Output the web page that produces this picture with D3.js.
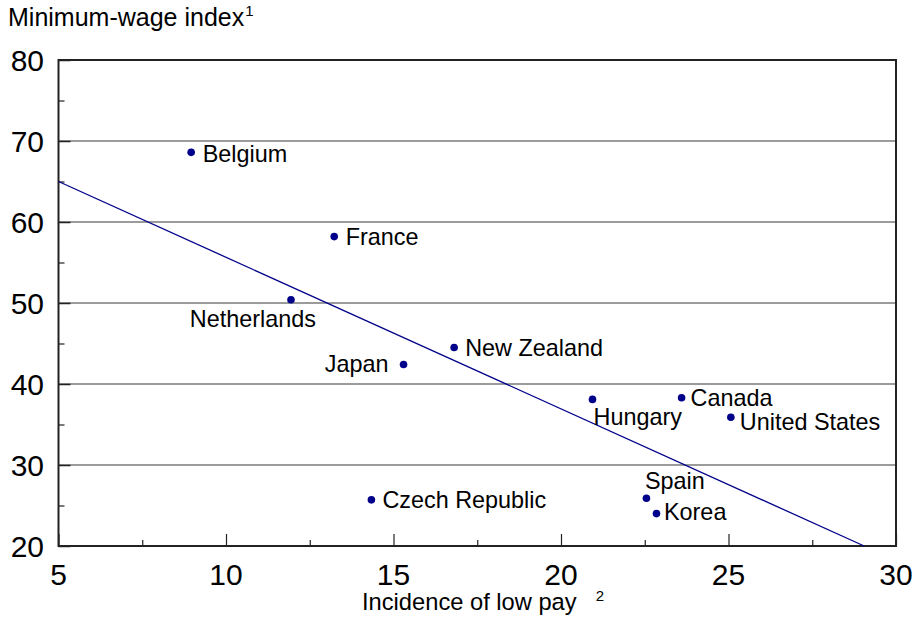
<!DOCTYPE html>
<html>
<head>
<meta charset="utf-8">
<script src="https://cdn.jsdelivr.net/npm/d3@7/dist/d3.min.js"></script>
<style>
  html, body { margin: 0; padding: 0; background: #fff; }
  svg { display: block; font-family: "Liberation Sans", Arial, sans-serif; }
</style>
</head>
<body>
<svg id="chart" width="918" height="630"></svg>
<script>
// ---- Data ----
const countries = ["Belgium", "France", "Netherlands", "Japan", "New Zealand", "Hungary",
                   "Canada", "United States", "Spain", "Korea", "Czech Republic"];
const lowPay = [8.96, 13.23, 11.94, 15.30, 16.81, 20.94, 23.60, 25.07, 22.55, 22.85, 14.34];
const minWageIndex = [68.6, 58.2, 50.4, 42.4, 44.5, 38.1, 38.3, 35.9, 25.9, 24.0, 25.7];
const fitX = [5, 29.05];
const fitY = [65.0, 20.0];
const xTicks = [5, 10, 15, 20, 25, 30];
const xMinorTicks = [7.5, 12.5, 17.5, 22.5, 27.5];
const yTicks = [20, 30, 40, 50, 60, 70, 80];
const yMinorTicks = [25, 35, 45, 55, 65, 75];
const yTitle = "Minimum-wage index";
const yTitleNote = "1";
const xTitle = "Incidence of low pay";
const xTitleNote = "2";

// ---- Layout ----
const svg = d3.select("#chart");
const L = 58.5, R = 896, T = 60, B = 546;
const x = d3.scaleLinear().domain([5, 30]).range([L, R]);
const y = d3.scaleLinear().domain([20, 80]).range([B, T]);
const navy = "#00008B";

// gridlines
svg.append("g").selectAll("line").data(yTicks.filter(d => d > 20 && d < 80)).join("line")
  .attr("x1", L).attr("x2", R).attr("y1", d => y(d)).attr("y2", d => y(d))
  .attr("stroke", "#7a7a7a").attr("stroke-width", 1.5);

// y axis ticks (inside)
const gy = svg.append("g").attr("transform", `translate(${L},0)`)
  .call(d3.axisRight(y).tickValues(yTicks).tickSize(12).tickFormat(""));
gy.select(".domain").remove();
gy.selectAll("line").attr("stroke", "#222").attr("stroke-width", 1.5);
const gym = svg.append("g").attr("transform", `translate(${L},0)`)
  .call(d3.axisRight(y).tickValues(yMinorTicks).tickSize(6).tickFormat(""));
gym.select(".domain").remove();
gym.selectAll("line").attr("stroke", "#222").attr("stroke-width", 1.2);

// x axis ticks (inside, pointing up)
const gx = svg.append("g").attr("transform", `translate(0,${B})`)
  .call(d3.axisTop(x).tickValues(xTicks).tickSize(12).tickFormat(""));
gx.select(".domain").remove();
gx.selectAll("line").attr("stroke", "#222").attr("stroke-width", 1.2);
const gxm = svg.append("g").attr("transform", `translate(0,${B})`)
  .call(d3.axisTop(x).tickValues(xMinorTicks).tickSize(6).tickFormat(""));
gxm.select(".domain").remove();
gxm.selectAll("line").attr("stroke", "#222").attr("stroke-width", 1.2);

// tick labels
svg.append("g").selectAll("text").data(yTicks).join("text")
  .attr("x", 44).attr("y", d => y(d)).attr("dy", "0.36em")
  .attr("text-anchor", "end").attr("font-size", 30).attr("fill", "#000")
  .text(d => d);
svg.append("g").selectAll("text").data(xTicks).join("text")
  .attr("x", d => x(d)).attr("y", 585)
  .attr("text-anchor", "middle").attr("font-size", 30).attr("fill", "#000")
  .text(d => d);

// frame
svg.append("rect").attr("x", L).attr("y", T).attr("width", R - L).attr("height", B - T)
  .attr("fill", "none").attr("stroke", "#222").attr("stroke-width", 2);

// fitted line
svg.append("line")
  .attr("x1", x(fitX[0])).attr("y1", y(fitY[0]))
  .attr("x2", x(fitX[1])).attr("y2", y(fitY[1]))
  .attr("stroke", navy).attr("stroke-width", 1.3);

// points
const pts = countries.map((c, i) => ({ c, xv: lowPay[i], yv: minWageIndex[i] }));
svg.append("g").selectAll("circle").data(pts).join("circle")
  .attr("cx", d => x(d.xv)).attr("cy", d => y(d.yv)).attr("r", 3.8)
  .attr("fill", navy);

// label placement (offset from point, anchor)
const place = {
  "Belgium": [11.5, 9.5, "start"],
  "France": [11.5, 8, "start"],
  "Netherlands": [25, 27, "end"],
  "Japan": [-15, 7.5, "end"],
  "New Zealand": [11, 8.5, "start"],
  "Hungary": [1, 25.5, "start"],
  "Canada": [9, 8, "start"],
  "United States": [9, 13, "start"],
  "Spain": [-1.5, -9, "start"],
  "Korea": [7.5, 6.5, "start"],
  "Czech Republic": [11, 8.5, "start"]
};
svg.append("g").selectAll("text").data(pts).join("text")
  .attr("x", d => x(d.xv) + place[d.c][0])
  .attr("y", d => y(d.yv) + place[d.c][1])
  .attr("text-anchor", d => place[d.c][2])
  .attr("font-size", 23.4).attr("fill", "#000")
  .text(d => d.c);

// titles
const yt = svg.append("text").attr("x", 8).attr("y", 26).attr("font-size", 25).attr("fill", "#000");
yt.append("tspan").text(yTitle);
yt.append("tspan").attr("font-size", 15).attr("dy", -10).attr("dx", 1).text(yTitleNote);

const xt = svg.append("text").attr("x", 362).attr("y", 610).attr("font-size", 23.7).attr("fill", "#000");
xt.append("tspan").text(xTitle);
xt.append("tspan").attr("font-size", 15).attr("dy", -9).attr("dx", 19).text(xTitleNote);
</script>
</body>
</html>
